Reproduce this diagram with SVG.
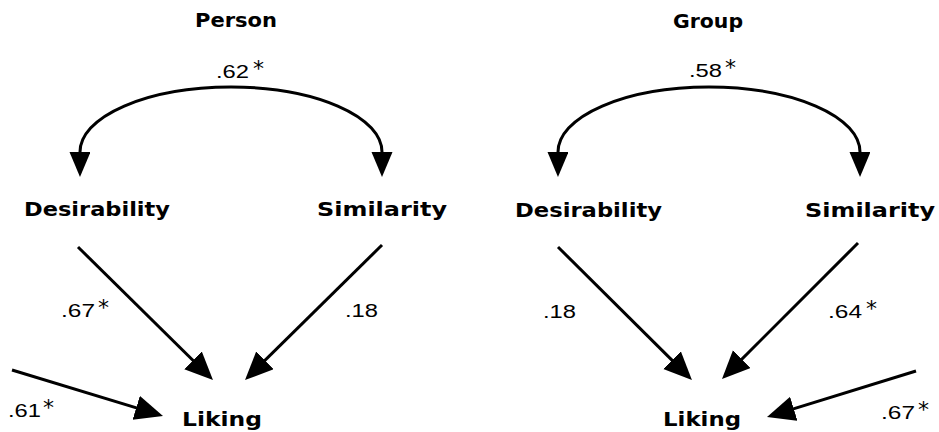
<svg xmlns="http://www.w3.org/2000/svg" width="939" height="432" viewBox="0 0 939 432">
<style>
.lbl{font-family:"DejaVu Sans","Liberation Sans",sans-serif;font-weight:bold;font-size:19px;fill:#000}
.num{font-family:"Liberation Sans","DejaVu Sans",sans-serif;font-size:17.5px;fill:#000}
.ast{font-family:"DejaVu Sans","Liberation Sans",sans-serif;font-size:22px;fill:#000}
.edge{fill:none;stroke:#000;stroke-width:3}
</style>
<defs>
<marker id="ah" markerUnits="userSpaceOnUse" markerWidth="30" markerHeight="27" refX="14" refY="12.5" orient="auto">
<path d="M0,0 L28,12.5 L0,25 z" fill="#000"/>
</marker>
<marker id="ahc" markerUnits="userSpaceOnUse" markerWidth="27" markerHeight="23" refX="0" refY="10.5" orient="auto-start-reverse">
<path d="M0,0 L25,10.5 L0,21 z" fill="#000"/>
</marker>
</defs>
<rect width="939" height="432" fill="#fff"/>
<g id="connectors">
<path class="edge" d="M80,152 A151,65 0 0 1 382,152" marker-start="url(#ahc)" marker-end="url(#ahc)"/>
<line class="edge" x1="78" y1="247" x2="203" y2="370.2" marker-end="url(#ah)"/>
<line class="edge" x1="382" y1="245" x2="255" y2="370.2" marker-end="url(#ah)"/>
<line class="edge" x1="12" y1="370" x2="149.6" y2="411.9" marker-end="url(#ah)"/>
<path class="edge" d="M558,152 A151,65 0 0 1 860,152" marker-start="url(#ahc)" marker-end="url(#ahc)"/>
<line class="edge" x1="558" y1="247" x2="682" y2="370.1" marker-end="url(#ah)"/>
<line class="edge" x1="858" y1="243" x2="731.9" y2="369.1" marker-end="url(#ah)"/>
<line class="edge" x1="916" y1="371" x2="780.4" y2="412.9" marker-end="url(#ah)"/>
</g>
<g id="edge-labels">
<text class="num" x="216" y="78" textLength="33" lengthAdjust="spacingAndGlyphs">.62</text><text class="ast" x="253" y="76">*</text>
<text class="num" x="61" y="317" textLength="34" lengthAdjust="spacingAndGlyphs">.67</text><text class="ast" x="98" y="315">*</text>
<text class="num" x="345" y="317" textLength="33" lengthAdjust="spacingAndGlyphs">.18</text>
<text class="num" x="8" y="417" textLength="33" lengthAdjust="spacingAndGlyphs">.61</text><text class="ast" x="43" y="415">*</text>
<text class="num" x="689" y="77" textLength="33" lengthAdjust="spacingAndGlyphs">.58</text><text class="ast" x="725" y="75">*</text>
<text class="num" x="543" y="318" textLength="33" lengthAdjust="spacingAndGlyphs">.18</text>
<text class="num" x="828" y="318" textLength="34" lengthAdjust="spacingAndGlyphs">.64</text><text class="ast" x="866" y="316">*</text>
<text class="num" x="881" y="419" textLength="34" lengthAdjust="spacingAndGlyphs">.67</text><text class="ast" x="918" y="417">*</text>
</g>
<g id="title-person"><text class="lbl" x="195" y="27" textLength="82" lengthAdjust="spacingAndGlyphs">Person</text></g>
<g id="title-group"><text class="lbl" x="673" y="28" textLength="70" lengthAdjust="spacingAndGlyphs">Group</text></g>
<g id="person-desirability"><text class="lbl" x="24" y="216" textLength="146" lengthAdjust="spacingAndGlyphs">Desirability</text></g>
<g id="person-similarity"><text class="lbl" x="317" y="216" textLength="130" lengthAdjust="spacingAndGlyphs">Similarity</text></g>
<g id="person-liking"><text class="lbl" x="182" y="426" textLength="80" lengthAdjust="spacingAndGlyphs">Liking</text></g>
<g id="group-desirability"><text class="lbl" x="515" y="217" textLength="147" lengthAdjust="spacingAndGlyphs">Desirability</text></g>
<g id="group-similarity"><text class="lbl" x="805" y="217" textLength="130" lengthAdjust="spacingAndGlyphs">Similarity</text></g>
<g id="group-liking"><text class="lbl" x="663" y="426" textLength="78" lengthAdjust="spacingAndGlyphs">Liking</text></g>
</svg>
